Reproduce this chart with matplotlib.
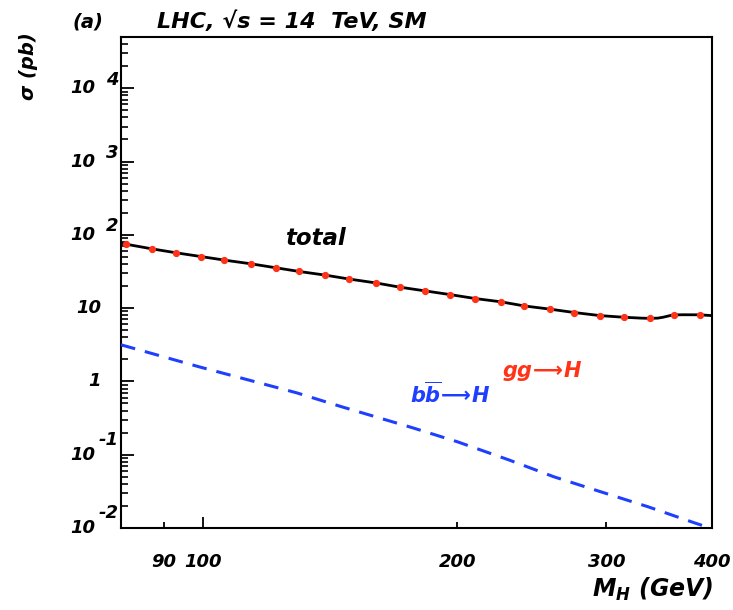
import matplotlib
matplotlib.use("Agg")
import matplotlib.pyplot as plt
from matplotlib.ticker import LogLocator, NullFormatter, FixedLocator

plt.rcParams['font.family'] = ['DejaVu Sans']
plt.rcParams['mathtext.fontset'] = 'custom'
plt.rcParams['mathtext.it'] = 'DejaVu Sans:italic:bold'
plt.rcParams['mathtext.rm'] = 'DejaVu Sans:italic:bold'
plt.rcParams['mathtext.bf'] = 'DejaVu Sans:italic:bold'

# ---------------- data ----------------
gg_mass = [81, 87, 93, 99.5, 106, 114, 122, 130, 139.5, 149, 160, 171, 183, 196,
           210, 225, 240, 257, 275, 295, 315, 338, 361, 387]
gg_xsec = [74.7, 64.4, 56.8, 50.5, 45.2, 40.2, 35.5, 31.6, 28.2, 24.9, 22.1, 19.3,
           17.2, 15.3, 13.5, 12.2, 10.7, 9.7, 8.7, 7.9, 7.5, 7.25, 8.1, 8.1]

total_mass = [80, 81, 87, 93, 99.5, 106, 114, 122, 130, 139.5, 149, 160, 171, 183,
              196, 210, 225, 240, 257, 275, 295, 315, 330, 338, 345, 350, 355, 358,
              361, 370, 387, 400]
total_xsec = [77.0, 74.7, 64.4, 56.8, 50.5, 45.2, 40.2, 35.5, 31.6, 28.2, 24.9, 22.1,
              19.3, 17.2, 15.3, 13.5, 12.2, 10.7, 9.7, 8.7, 7.9, 7.5, 7.3, 7.25, 7.3,
              7.5, 7.8, 7.98, 8.08, 8.12, 8.1, 7.9]

bb_mass = [80, 99, 129, 146, 177, 200, 230, 260, 296, 336, 381, 400]
bb_xsec = [3.16, 1.58, 0.70, 0.45, 0.233, 0.150, 0.085, 0.050, 0.031, 0.0195, 0.0118, 0.0098]

x_major_ticks = [100]
x_major_labels = ['100']
x_minor_ticks = [90, 200, 300, 400]
x_minor_labels = ['90', '200', '300', '400']

ytick_vals = [1e-2, 1e-1, 1, 10, 1e2, 1e3, 1e4]
ytick_base = ['10', '10', '1', '10', '10', '10', '10']
ytick_exp = ['-2', '-1', '', '', '2', '3', '4']

RED = '#ff3318'
BLUE = '#1f3fff'

# ---------------- figure ----------------
fig = plt.figure(figsize=(7.33, 6.10), dpi=100)
ax = fig.add_axes([121/733, 1-528/610, (712-121)/733, (528-37)/610])

ax.plot(total_mass, total_xsec, color='black', lw=2.0, zorder=3)
ax.plot(gg_mass, gg_xsec, ls='none', marker='o', ms=4.2, color=RED, mec=RED, zorder=4)
ax.plot(bb_mass, bb_xsec, color=BLUE, lw=2.2, dashes=(4.8, 3.3), zorder=3)

ax.set_xscale('log')
ax.set_yscale('log')
ax.set_xlim(80, 400)
ax.set_ylim(0.01, 5e4)

for s in ax.spines.values():
    s.set_linewidth(1.5)

tick_font = dict(fontsize=13, fontweight='bold', fontstyle='italic')

# x ticks
ax.xaxis.set_major_locator(FixedLocator(x_major_ticks))
ax.xaxis.set_minor_locator(FixedLocator(x_minor_ticks))
ax.set_xticks(x_major_ticks, labels=x_major_labels)
ax.set_xticks(x_minor_ticks, labels=x_minor_labels, minor=True)
for lab in ax.get_xticklabels(which='both'):
    lab.set_fontsize(13)
    lab.set_fontweight('bold')
    lab.set_fontstyle('italic')
ax.tick_params(axis='x', which='major', direction='in', length=8, width=1.3, pad=18,
               top=False)
ax.tick_params(axis='x', which='minor', direction='in', length=4, width=1.3, pad=18,
               top=False)

# y ticks
ax.set_yticks(ytick_vals, labels=[''] * len(ytick_vals))
ax.yaxis.set_minor_locator(LogLocator(base=10, subs=range(2, 10), numticks=30))
ax.yaxis.set_minor_formatter(NullFormatter())
ax.tick_params(axis='y', which='major', direction='in', length=9, width=1.3, right=False)
ax.tick_params(axis='y', which='minor', direction='in', length=5, width=1.2, right=False)

ytrans = ax.get_yaxis_transform()
for v, b, e in zip(ytick_vals, ytick_base, ytick_exp):
    if e:
        ax.text(-0.044, v, b, transform=ytrans, ha='right', va='center', **tick_font)
        off = 10.5 if e.startswith('-') else 6.0
        ax.annotate(e, xy=(-0.004, v), xycoords=ytrans, xytext=(0, off),
                    textcoords='offset points', ha='right', va='center', **tick_font)
    else:
        ax.text(-0.034, v, b, transform=ytrans, ha='right', va='center', **tick_font)

# annotations
ax.text((285-121)/591, (528-245)/491, 'total', transform=ax.transAxes,
        ha='left', va='baseline', fontsize=16.5, fontweight='bold', fontstyle='italic',
        color='black')
ax.text((502-121)/591, (528-377)/491, r'$gg\!\longrightarrow\! H$', transform=ax.transAxes,
        ha='left', va='baseline', fontsize=15, color=RED)
ax.text((410-121)/591, (528-403)/491, r'$b\overline{b}\!\longrightarrow\! H$', transform=ax.transAxes,
        ha='left', va='baseline', fontsize=15, color=BLUE)

# titles / axis labels
fig.text(73/733, 1-28/610, '(a)', ha='left', va='baseline',
         fontsize=14, fontweight='bold', fontstyle='italic')
fig.text(157/733, 1-28/610, 'LHC, \u221as = 14  TeV, SM', ha='left', va='baseline',
         fontsize=16, fontweight='bold', fontstyle='italic')
fig.text(28/733, 1-66/610, '\u03c3 (pb)', rotation=90, ha='center', va='center',
         fontsize=14, fontweight='bold', fontstyle='italic')
fig.text(713/733, 1-597/610, r'$M_{H}$ (GeV)', ha='right', va='baseline',
         fontsize=17, fontweight='bold', fontstyle='italic')

fig.savefig('out.png', dpi=100)
